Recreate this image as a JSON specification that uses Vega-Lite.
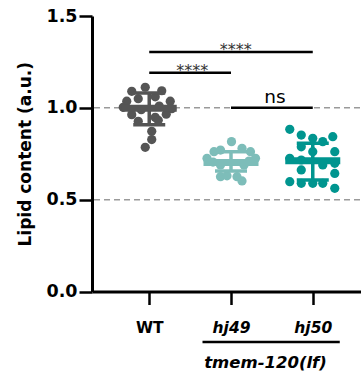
{
  "$schema": "https://vega.github.io/schema/vega-lite/v6.json",
  "width": 278,
  "height": 275.5,
  "autosize": "none",
  "padding": {"left": 92, "top": 16, "right": 0, "bottom": 82.5},
  "config": {"view": {"stroke": null}, "font": "DejaVu Sans"},
  "datasets": {
    "points": [
      {"group": "WT", "value": 1.090, "j": -1.75},
      {"group": "WT", "value": 1.112, "j": -0.4},
      {"group": "WT", "value": 1.093, "j": 1.25},
      {"group": "WT", "value": 1.036, "j": -2.25},
      {"group": "WT", "value": 1.036, "j": 2.1},
      {"group": "WT", "value": 1.003, "j": -2.6},
      {"group": "WT", "value": 0.995, "j": 2.25},
      {"group": "WT", "value": 0.963, "j": -1.75},
      {"group": "WT", "value": 0.948, "j": 0.6},
      {"group": "WT", "value": 0.927, "j": -1.1},
      {"group": "WT", "value": 0.932, "j": 0.9},
      {"group": "WT", "value": 0.872, "j": 0.25},
      {"group": "WT", "value": 0.827, "j": 0.25},
      {"group": "WT", "value": 0.785, "j": -0.4},
      {"group": "WT", "value": 1.05, "j": -1.1},
      {"group": "WT", "value": 1.06, "j": 0.6},
      {"group": "WT", "value": 0.99, "j": -0.8},
      {"group": "WT", "value": 1.01, "j": 1.0},
      {"group": "WT", "value": 0.965, "j": 1.7},
      {"group": "hj49", "value": 0.816, "j": 0.05},
      {"group": "hj49", "value": 0.761, "j": -1.7},
      {"group": "hj49", "value": 0.770, "j": -1.05},
      {"group": "hj49", "value": 0.780, "j": 1.1},
      {"group": "hj49", "value": 0.761, "j": 1.95},
      {"group": "hj49", "value": 0.725, "j": -2.4},
      {"group": "hj49", "value": 0.725, "j": 2.45},
      {"group": "hj49", "value": 0.689, "j": -1.05},
      {"group": "hj49", "value": 0.689, "j": 1.3},
      {"group": "hj49", "value": 0.625, "j": -1.05},
      {"group": "hj49", "value": 0.625, "j": 0.6},
      {"group": "hj49", "value": 0.602, "j": 1.1},
      {"group": "hj49", "value": 0.630, "j": -0.4},
      {"group": "hj49", "value": 0.705, "j": -1.8},
      {"group": "hj49", "value": 0.710, "j": 1.8},
      {"group": "hj50", "value": 0.883, "j": -2.3},
      {"group": "hj50", "value": 0.852, "j": -1.15},
      {"group": "hj50", "value": 0.834, "j": 0},
      {"group": "hj50", "value": 0.816, "j": 1.0},
      {"group": "hj50", "value": 0.843, "j": 2.0},
      {"group": "hj50", "value": 0.761, "j": 2.2},
      {"group": "hj50", "value": 0.761, "j": 0},
      {"group": "hj50", "value": 0.788, "j": -1.15},
      {"group": "hj50", "value": 0.725, "j": -2.3},
      {"group": "hj50", "value": 0.698, "j": 2.2},
      {"group": "hj50", "value": 0.662, "j": -1.15},
      {"group": "hj50", "value": 0.689, "j": 1.0},
      {"group": "hj50", "value": 0.643, "j": 2.2},
      {"group": "hj50", "value": 0.598, "j": -2.3},
      {"group": "hj50", "value": 0.589, "j": 0},
      {"group": "hj50", "value": 0.589, "j": 1.0},
      {"group": "hj50", "value": 0.562, "j": 2.2},
      {"group": "hj50", "value": 0.589, "j": -1.15},
      {"group": "hj50", "value": 0.716, "j": -1.15}
    ],
    "summary": [
      {"group": "WT", "mean": 0.998, "lo": 0.908, "hi": 1.081},
      {"group": "hj49", "mean": 0.703, "lo": 0.656, "hi": 0.761},
      {"group": "hj50", "mean": 0.712, "lo": 0.607, "hi": 0.807}
    ],
    "grid": [{"v": 0.5}, {"v": 1.0}],
    "sig": [
      {"from": "WT", "to": "hj50", "v": 1.304},
      {"from": "WT", "to": "hj49", "v": 1.191},
      {"from": "hj49", "to": "hj50", "v": 1.0}
    ],
    "genotype": [{"from": "hj49", "to": "hj50", "v": -0.275, "tv": -0.39, "label": "tmem-120(lf)"}]
  },
  "encoding": {
    "x": {
      "field": "group",
      "type": "nominal",
      "sort": ["WT", "hj49", "hj50"],
      "scale": {"type": "point", "padding": 0.7, "domain": ["WT", "hj49", "hj50"]},
      "axis": {
        "title": null,
        "labelAngle": 0,
        "labelFont": "DejaVu Sans",
        "labelFontSize": 15.5,
        "labelFontWeight": "bold",
        "labelFontStyle": {"expr": "datum.value == 'WT' ? 'normal' : 'italic'"},
        "labelColor": "#000",
        "labelPadding": 16,
        "tickSize": 13,
        "tickWidth": 2.5,
        "tickColor": "#000",
        "domainColor": "#000",
        "domainWidth": 3,
        "grid": false
      }
    }
  },
  "layer": [
    {
      "data": {"name": "grid"},
      "mark": {"type": "rule", "color": "#9a9a9a", "strokeWidth": 1.5, "strokeDash": [6, 4]},
      "encoding": {
        "x": null,
        "y": {
          "field": "v",
          "type": "quantitative",
          "scale": {"domain": [0, 1.5], "nice": false, "zero": false},
          "axis": {
            "title": "Lipid content (a.u.)",
            "titleFont": "DejaVu Sans",
            "titleFontSize": 17,
            "titleFontWeight": "bold",
            "titleColor": "#000",
            "titlePadding": 11,
            "values": [0, 0.5, 1.0, 1.5],
            "format": ".1f",
            "labelFont": "DejaVu Sans",
            "labelFontSize": 17.5,
            "labelFontWeight": "bold",
            "labelColor": "#000",
            "labelPadding": 2,
            "tickSize": 13,
            "tickWidth": 2.5,
            "tickColor": "#000",
            "domainColor": "#000",
            "domainWidth": 3,
            "grid": false
          }
        }
      }
    },
    {
      "data": {"name": "sig"},
      "mark": {"type": "rule", "color": "#000", "strokeWidth": 2.5},
      "encoding": {
        "x": {"field": "from", "type": "nominal"},
        "x2": {"field": "to"},
        "y": {"field": "v", "type": "quantitative"}
      }
    },
    {
      "data": {"name": "points"},
      "mark": {"type": "circle", "size": 85, "opacity": 1},
      "encoding": {
        "y": {"field": "value", "type": "quantitative"},
        "xOffset": {"field": "j", "type": "quantitative", "scale": {"domain": [-3, 3], "range": [-30, 30]}},
        "color": {
          "field": "group",
          "type": "nominal",
          "scale": {"domain": ["WT", "hj49", "hj50"], "range": ["#555555", "#7dbdb9", "#00958f"]},
          "legend": null
        }
      }
    },
    {
      "data": {"name": "summary"},
      "mark": {"type": "rule", "strokeWidth": 3.5},
      "encoding": {
        "y": {"field": "lo", "type": "quantitative"},
        "y2": {"field": "hi"},
        "color": {
          "field": "group",
          "type": "nominal",
          "scale": {"domain": ["WT", "hj49", "hj50"], "range": ["#000000", "#4f9994", "#1b4a48"]},
          "legend": null
        }
      }
    },
    {
      "data": {"name": "summary"},
      "mark": {"type": "tick", "orient": "horizontal", "size": 32, "thickness": 3.5, "opacity": 1},
      "encoding": {
        "y": {"field": "lo", "type": "quantitative"},
        "color": {
          "field": "group",
          "type": "nominal",
          "scale": {"domain": ["WT", "hj49", "hj50"], "range": ["#000000", "#4f9994", "#1b4a48"]},
          "legend": null
        }
      }
    },
    {
      "data": {"name": "summary"},
      "mark": {"type": "tick", "orient": "horizontal", "size": 32, "thickness": 3.5, "opacity": 1},
      "encoding": {
        "y": {"field": "hi", "type": "quantitative"},
        "color": {
          "field": "group",
          "type": "nominal",
          "scale": {"domain": ["WT", "hj49", "hj50"], "range": ["#000000", "#4f9994", "#1b4a48"]},
          "legend": null
        }
      }
    },
    {
      "data": {"name": "summary"},
      "mark": {"type": "tick", "orient": "horizontal", "size": 55, "thickness": 7, "opacity": 1},
      "encoding": {
        "y": {"field": "mean", "type": "quantitative"},
        "color": {
          "field": "group",
          "type": "nominal",
          "scale": {"domain": ["WT", "hj49", "hj50"], "range": ["#000000", "#4f9994", "#1b4a48"]},
          "legend": null
        }
      }
    },
    {
      "data": {"name": "sig"},
      "transform": [{"filter": "datum.from == 'WT' && datum.to == 'hj50'"}],
      "mark": {"type": "text", "text": "****", "font": "DejaVu Sans", "fontSize": 16, "color": "#333", "baseline": "alphabetic", "dx": -77, "dy": 3.5},
      "encoding": {
        "x": {"field": "to", "type": "nominal"},
        "y": {"field": "v", "type": "quantitative"}
      }
    },
    {
      "data": {"name": "sig"},
      "transform": [{"filter": "datum.from == 'WT' && datum.to == 'hj49'"}],
      "mark": {"type": "text", "text": "****", "font": "DejaVu Sans", "fontSize": 16, "color": "#333", "baseline": "alphabetic", "dx": 43, "dy": 3.5},
      "encoding": {
        "x": {"field": "from", "type": "nominal"},
        "y": {"field": "v", "type": "quantitative"}
      }
    },
    {
      "data": {"name": "sig"},
      "transform": [{"filter": "datum.from == 'hj49'"}],
      "mark": {"type": "text", "text": "ns", "font": "DejaVu Sans", "fontSize": 18.5, "color": "#000", "baseline": "alphabetic", "dx": 44, "dy": -4.7},
      "encoding": {
        "x": {"field": "from", "type": "nominal"},
        "y": {"field": "v", "type": "quantitative"}
      }
    },
    {
      "data": {"name": "genotype"},
      "mark": {"type": "rule", "color": "#000", "strokeWidth": 2.5, "xOffset": -28.5, "x2Offset": 27},
      "encoding": {
        "x": {"field": "from", "type": "nominal"},
        "x2": {"field": "to"},
        "y": {"field": "v", "type": "quantitative"}
      }
    },
    {
      "data": {"name": "genotype"},
      "mark": {"type": "text", "font": "DejaVu Sans", "fontSize": 16.5, "fontWeight": "bold", "fontStyle": "italic", "color": "#000", "baseline": "middle", "dx": 34.5},
      "encoding": {
        "x": {"field": "from", "type": "nominal"},
        "y": {"field": "tv", "type": "quantitative"},
        "text": {"field": "label"}
      }
    }
  ]
}
